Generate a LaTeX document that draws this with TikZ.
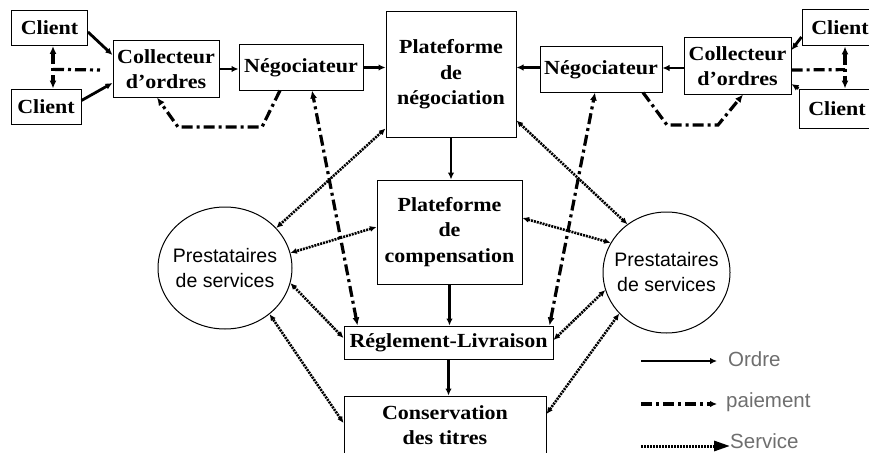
\documentclass[tikz,border=0pt]{standalone}
\usepackage{fontspec}
\setmainfont{Liberation Serif}[FakeStretch=1.1]
\newfontfamily\sansfont{Liberation Sans}
\usetikzlibrary{arrows.meta,shapes.geometric,calc}
\definecolor{legendgrey}{RGB}{110,110,110}
\tikzset{
  box/.style={draw, line width=1pt, fill=white, align=center, inner sep=2pt,
    font=\fontsize{20}{25.5}\selectfont\bfseries},
  actor/.style={draw, ellipse, line width=1pt, fill=white, inner sep=0pt},
  actortext/.style={align=center, inner sep=0pt,
    font=\sansfont\fontsize{19.5}{25}\selectfont},
  ordre/.style={line width=2.8pt, -{Latex[length=7pt,width=6.5pt]}},
  paiement/.style={line width=3.2pt, dash pattern=on 11pt off 4pt on 3pt off 4pt,
    {Latex[length=8pt,width=7pt]}-{Latex[length=8pt,width=7pt]}},
  paiementto/.style={line width=3.2pt, dash pattern=on 11pt off 4pt on 3pt off 4pt,
    -{Latex[length=8pt,width=7pt]}},
  paiementplain/.style={line width=3.2pt, dash pattern=on 11pt off 4pt on 3pt off 4pt},
  service/.style={line width=2.6pt, black, dash pattern=on 2pt off 1pt,
    {Latex[length=6.5pt,width=6pt]}-{Latex[length=6.5pt,width=6pt]}},
  legendtext/.style={anchor=west, text=legendgrey, inner sep=0pt,
    font=\sansfont\fontsize{20.5}{22}\selectfont}
}
\begin{document}
\begin{tikzpicture}[x=1pt,y=-1pt]
\useasboundingbox (0,0) rectangle (869,452);
\clip (0,0) rectangle (869,452);

% clients on the left
\node[box, minimum width=76pt, minimum height=35pt] (cl1) at (49.5,28) {Client};
\node[box, minimum width=70pt, minimum height=35pt] (cl2) at (46,106.5) {Client};
\node[box, minimum width=106pt, minimum height=56pt] (colL) at (166,69) {Collecteur\\d'ordres};
\node[box, minimum width=124pt, minimum height=45pt] (negL) at (301,67.5) {Négociateur};

% central column
\node[box, minimum width=130pt, minimum height=125pt] (pnego) at (451,74.5) {Plateforme\\de\\négociation};
\node[box, minimum width=145pt, minimum height=104pt] (pcomp) at (449.5,232) {Plateforme\\de\\compensation};
\node[box, minimum width=209pt, minimum height=33pt] (regl) at (448.5,342.5) {Réglement-Livraison};
\node[box, minimum width=202pt, minimum height=70pt] (cons) at (445,431) {};
\node[font=\fontsize{20}{25.5}\selectfont\bfseries, align=center] (constext) at (445,425) {Conservation\\des titres};

% right side
\node[box, minimum width=122pt, minimum height=45pt] (negR) at (601,69.5) {Négociateur};
\node[box, minimum width=107pt, minimum height=56pt] (colR) at (737.5,66) {Collecteur\\d'ordres};
\node[box, minimum width=76pt, minimum height=36pt] (clR1) at (840,28) {Client};
\node[box, minimum width=76pt, minimum height=39pt] (clR2) at (837,108.5) {Client};

% service providers
\node[actor, minimum width=134pt, minimum height=122pt] (presL) at (225,268) {};
\node[actortext] (presLt) at (presL.center) {Prestataires\\de services};
\node[actor, minimum width=127pt, minimum height=121pt] (presR) at (666.5,272.5) {};
\node[actortext] (presRt) at (presR.center) {Prestataires\\de services};

% order flow
\draw[ordre] ([yshift=-4pt]cl1.east) -- ([yshift=14pt]colL.west);
\draw[ordre] ([yshift=6pt]cl2.east) -- ([yshift=-14pt]colL.west);
\draw[ordre] (colL.east) -- (colL.east -| negL.west);
\draw[ordre] (negL.east) -- (negL.east -| pnego.west);
\draw[ordre] ([yshift=2pt]negR.west) -- ([yshift=2pt]negR.west -| pnego.east);
\draw[ordre] ([yshift=-2pt]colR.east -| colR.west) -- ([yshift=-2pt]colR.east -| negR.east);
\draw[ordre] ([yshift=-9pt]clR1.west) -- ([yshift=16pt]colR.east);
\draw[ordre] (clR2.north west) -- ([yshift=-18pt]colR.east);
\draw[ordre] (pnego.south) -- (pnego.south |- pcomp.north);
\draw[ordre] (pcomp.south) -- (pcomp.south |- regl.north);
\draw[ordre] (regl.south) -- (regl.south |- cons.north);

% payments between clients and collectors
\coordinate (payL) at (100,70);
\draw[paiement] ([xshift=3.5pt]cl1.south) -- ([xshift=7pt]cl2.north);
\draw[paiementplain] ($([xshift=3.5pt]cl1.south)!0.55!([xshift=7pt]cl2.north)$) -- (payL);
\draw[paiement] ([xshift=5pt]clR1.south) -- ([xshift=8pt]clR2.north);
\draw[paiementplain] ([yshift=-4pt]colR.east) -- ($([xshift=5pt]clR1.south)!0.55!([xshift=8pt]clR2.north)$);

% payments between negotiators and collectors
\draw[paiementto] ([xshift=-21pt]negL.south) -- (262,127) -- (178,127) -- ([xshift=-9pt]colL.south);
\draw[paiementto] ([xshift=42pt]negR.south) -- (667,125) -- (718,125) -- ([xshift=5.5pt]colR.south);

% payments between negotiators and settlement
\draw[paiement] ([xshift=-91pt]regl.north) -- ([xshift=11pt]negL.south);
\draw[paiement] ([xshift=101pt]regl.north) -- ([xshift=-6pt]negR.south);

% services
\draw[service] ([yshift=9pt]pnego.south west) -- (presL.38);
\draw[service] ([yshift=5pt]pcomp.west) -- (presL.13);
\draw[service] ([yshift=4.5pt]regl.west) -- (presL.-13);
\draw[service] ([yshift=8pt]cons.west) -- (presL.-46);
\draw[service] ([yshift=17pt]pnego.south east) -- (presR.129);
\draw[service] ([yshift=14pt]pcomp.east) -- (presR.152);
\draw[service] ([yshift=2.5pt]regl.east) -- (presR.196);
\draw[service] ([yshift=17pt]cons.east) -- (presR.221);

% legend
\coordinate (lo1) at (641,361);
\coordinate (lo2) at (717,361);
\coordinate (lp1) at (641,404);
\coordinate (lp2) at (717,404);
\coordinate (ls1) at (641,446);
\coordinate (ls2) at (730,446);
\draw[line width=2.6pt, -{Latex[length=7pt,width=6.5pt]}] (lo1) -- (lo2);
\draw[line width=3.2pt, dash pattern=on 11pt off 4pt on 3pt off 4pt, -{Latex[length=7pt,width=6.5pt]}] (lp1) -- (lp2);
\draw[line width=3pt, dash pattern=on 2pt off 1pt, -{Triangle[length=16pt,width=10pt]}] (ls1) -- (ls2);
\node[legendtext] (lot) at (728,359) {Ordre};
\node[legendtext] (lpt) at (726,402) {paiement};
\node[legendtext] (lst) at (730,441) {Service};
\end{tikzpicture}
\end{document}
